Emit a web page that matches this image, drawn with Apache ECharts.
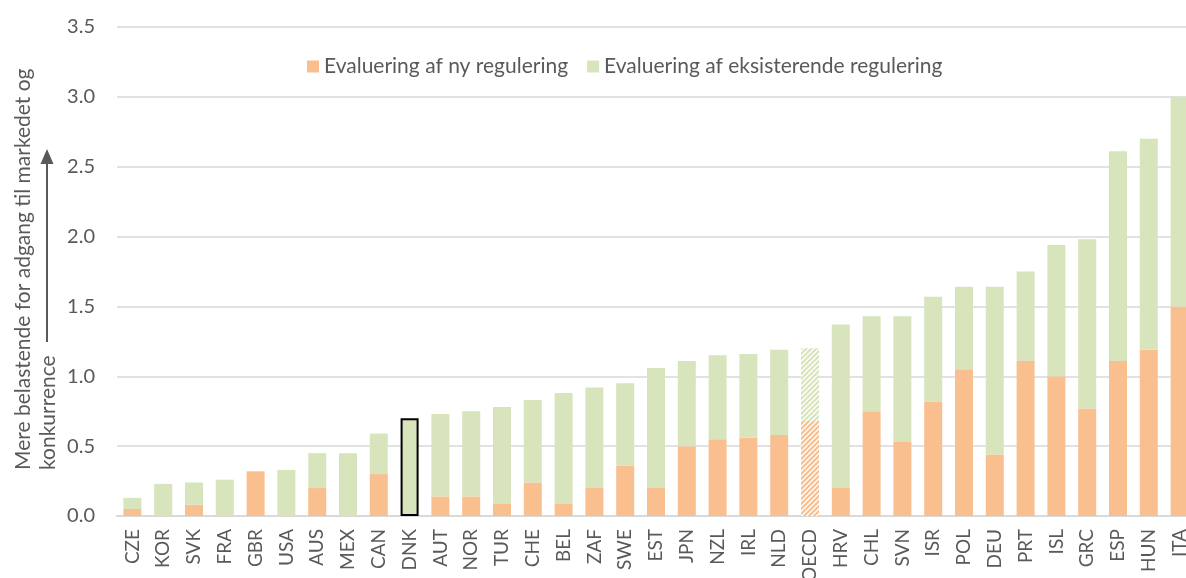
<!DOCTYPE html>
<html>
<head>
<meta charset="utf-8">
<script src="https://cdn.jsdelivr.net/npm/echarts/dist/echarts.min.js"></script>
<style>
html, body { margin: 0; padding: 0; background: #fff; }
#chart { width: 1186px; height: 578px; }
</style>
</head>
<body>
<div id="chart"></div>
<script>
// data
var countries = ['CZE','KOR','SVK','FRA','GBR','USA','AUS','MEX','CAN','DNK','AUT','NOR','TUR','CHE','BEL','ZAF','SWE','EST','JPN','NZL','IRL','NLD','OECD','HRV','CHL','SVN','ISR','POL','DEU','PRT','ISL','GRC','ESP','HUN','ITA'];
var nyRegulering = [0.05,0,0.08,0,0.32,0,0.2,0,0.3,0,0.14,0.14,0.09,0.24,0.09,0.2,0.36,0.2,0.5,0.55,0.56,0.58,0.68,0.2,0.75,0.53,0.82,1.05,0.44,1.11,1.0,0.77,1.11,1.19,1.5];
var eksisterendeRegulering = [0.08,0.23,0.16,0.26,0,0.33,0.25,0.45,0.29,0.7,0.59,0.61,0.69,0.59,0.79,0.72,0.59,0.86,0.61,0.6,0.6,0.61,0.52,1.17,0.68,0.9,0.75,0.59,1.2,0.64,0.94,1.21,1.5,1.51,1.5];
var seriesNames = ['Evaluering af ny regulering', 'Evaluering af eksisterende regulering'];
var yTicks = [0, 0.5, 1, 1.5, 2, 2.5, 3, 3.5];

var ORANGE = '#F9BF8F';
var GREEN = '#D8E4BC';
var TXT = '#595959';
var FONT = 'Lato, "Open Sans", sans-serif';

// diagonal hatch for the OECD average
function hatch(col) {
	var c = document.createElement('canvas');
	c.width = 5; c.height = 5;
	var ctx = c.getContext('2d');
	ctx.fillStyle = '#fff';
	ctx.fillRect(0, 0, 5, 5);
	ctx.strokeStyle = col;
	ctx.lineWidth = 2.2;
	ctx.beginPath();
	ctx.moveTo(0, 5); ctx.lineTo(5, 0);
	ctx.moveTo(-2.5, 2.5); ctx.lineTo(2.5, -2.5);
	ctx.moveTo(2.5, 7.5); ctx.lineTo(7.5, 2.5);
	ctx.stroke();
	return { image: c, repeat: 'repeat' };
}

function buildData(values, col) {
	return values.map(function(v, i) {
		var item = { value: v };
		if (countries[i] === 'OECD') {
			item.itemStyle = { color: hatch(col) };
		}
		if (countries[i] === 'DNK' && v > 0) {
			item.itemStyle = { borderColor: '#000', borderWidth: 2 };
		}
		return item;
	});
}

var myChart = echarts.init(document.getElementById('chart'));
var option = {
	backgroundColor: '#fff',
	animation: false,
	legend: {
		top: 51,
		left: 302,
		itemWidth: 12,
		itemHeight: 12,
		itemGap: 19,
		icon: 'rect',
		textStyle: { color: TXT, fontSize: 21, fontFamily: FONT },
		data: seriesNames
	},
	grid: { left: 117, right: -9, top: 27, bottom: 62, containLabel: false, outerBoundsMode: 'none' },
	xAxis: {
		type: 'category',
		data: countries,
		axisLine: { lineStyle: { color: '#D9D9D9', width: 2 } },
		axisTick: { show: false },
		axisLabel: { rotate: 90, color: TXT, fontSize: 19, fontFamily: FONT, margin: 13, interval: 0 }
	},
	yAxis: {
		type: 'value',
		min: yTicks[0],
		max: yTicks[yTicks.length - 1],
		interval: 0.5,
		axisLine: { show: false },
		axisTick: { show: false },
		splitLine: { lineStyle: { color: '#D9D9D9', width: 1.5 } },
		axisLabel: {
			color: TXT, fontSize: 20, fontFamily: FONT, margin: 22,
			formatter: function(v) { return v.toFixed(1); }
		}
	},
	graphic: [
		{
			type: 'text', x: 23, y: 470, rotation: Math.PI / 2,
			style: { text: 'Mere belastende for adgang til markedet og', fill: TXT, font: '21px ' + FONT, textAlign: 'left', textVerticalAlign: 'middle' }
		},
		{
			type: 'text', x: 48, y: 470, rotation: Math.PI / 2,
			style: { text: 'konkurrence', fill: TXT, font: '21px ' + FONT, textAlign: 'left', textVerticalAlign: 'middle' }
		},
		{
			type: 'line', shape: { x1: 47, y1: 342, x2: 47, y2: 160 },
			style: { stroke: '#595959', lineWidth: 2 }
		},
		{
			type: 'polygon', shape: { points: [[47, 149], [40.5, 164], [53.5, 164]] },
			style: { fill: '#595959' }
		}
	],
	series: [
		{
			name: seriesNames[0],
			type: 'bar',
			stack: 'total',
			barWidth: 18,
			itemStyle: { color: ORANGE },
			data: buildData(nyRegulering, ORANGE)
		},
		{
			name: seriesNames[1],
			type: 'bar',
			stack: 'total',
			barWidth: 18,
			itemStyle: { color: GREEN },
			data: buildData(eksisterendeRegulering, GREEN)
		}
	]
};
myChart.setOption(option);
</script>
</body>
</html>
